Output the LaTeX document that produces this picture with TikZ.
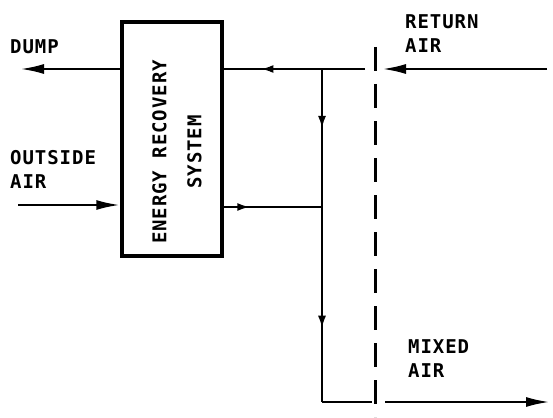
\documentclass[tikz,border=0pt]{standalone}
\usepackage{fontspec}
\setmonofont[LetterSpace=5]{DejaVu Sans Mono}
\usetikzlibrary{arrows.meta,decorations.markings}

\begin{document}
\begin{tikzpicture}[x=1pt,y=-1pt,
  >={Latex[length=13pt,width=8pt]},
  duct/.style={line width=2.6pt},
  flowtip/.style={duct,-{Latex[length=24pt,width=10pt]}},
  midarr/.style={duct,postaction={decorate},decoration={markings,
    mark=at position #1 with {\arrow{>}}}},
  lbl/.style={font=\ttfamily\bfseries\fontsize{19}{24}\selectfont,align=left,inner sep=0pt,anchor=north west}]
  \useasboundingbox (0,0) rectangle (553,417);
  %% energy recovery unit
  \node[draw,line width=3.5pt,minimum width=100pt,minimum height=234pt,inner sep=0pt] (ers) at (172,139) {};
  \node[font=\ttfamily\bfseries\fontsize{19}{35}\selectfont,rotate=90,align=center] (erstxt) at (177,152) {ENERGY RECOVERY\\SYSTEM};
  % duct points
  \coordinate (dump)  at (20,69);
  \coordinate (oa)    at (18,205);
  \coordinate (ra)    at (547,69);
  \coordinate (raend) at (382,69);
  \coordinate (rtop)  at (365,69);
  \coordinate (jtop)  at (322,69);
  \coordinate (jmid)  at (322,207);
  \coordinate (jbot)  at (322,402);
  \coordinate (mxgap) at (372,402);
  \coordinate (mxa)   at (385,402);
  \coordinate (mx)    at (550,402);
  % exhaust and outside air
  \draw[flowtip] (ers.west |- dump) -- (dump);
  \draw[flowtip] (oa) -- (oa -| ers.west);
  % return air side
  \draw[flowtip] (ra) -- (raend);
  \draw[midarr=0.74] (rtop) -- (ers.east |- rtop);
  \draw[midarr=0.27] (ers.east |- jmid) -- (jmid);
  % mixing leg
  \draw[duct,postaction={decorate},decoration={markings,
    mark=at position 0.18 with {\arrow{>}},
    mark=at position 0.78 with {\arrow{>}}}] (jtop) -- (jbot);
  \draw[duct] (jbot) -- (mxgap);
  \draw[flowtip] (mxa) -- (mx);
  % boundary
  \draw[line width=3pt,dash pattern=on 24pt off 13pt] (375,47) -- (375,417);
  %% labels
  \node[lbl] (dumplbl) at (10,39)  {DUMP};
  \node[lbl] (oalbl)   at (10,150) {OUTSIDE\\AIR};
  \node[lbl] (ralbl)   at (405,14) {RETURN\\AIR};
  \node[lbl] (malbl)   at (408,339) {MIXED\\AIR};
\end{tikzpicture}
\end{document}
